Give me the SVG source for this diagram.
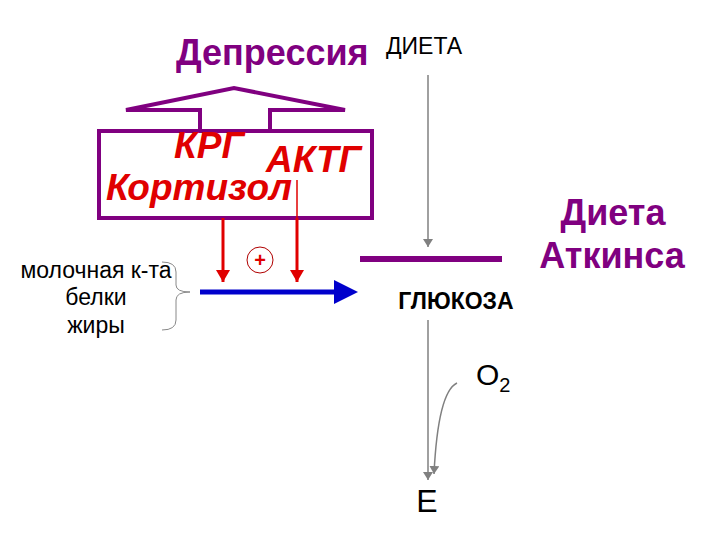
<svg xmlns="http://www.w3.org/2000/svg" width="720" height="540" viewBox="0 0 720 540">
<style>
text{font-family:"Liberation Sans",Arial,sans-serif}
.pur{fill:none;stroke:#800080;stroke-width:4}
.red{stroke:#e00000;stroke-width:3;fill:none}
.gr{stroke:#808080;stroke-width:1.5;fill:none}
</style>
<defs>
<marker id="gh" markerWidth="8" markerHeight="10" refX="8" refY="5" orient="auto" markerUnits="userSpaceOnUse"><path d="M0,0 L8,5 L0,10 Z" fill="#808080"/></marker>
<marker id="bh" markerWidth="24" markerHeight="24" refX="2" refY="12" orient="auto" markerUnits="userSpaceOnUse"><path d="M0,0 L24,12 L0,24 Z" fill="#0000cc"/></marker>
<marker id="rm" markerWidth="12" markerHeight="14" refX="12" refY="7" orient="auto" markerUnits="userSpaceOnUse"><path d="M0,0 L12,7 L0,14 Z" fill="#e00000"/></marker>
</defs>
<g id="depressia"><text x="176" y="65" font-size="36" font-weight="bold" fill="#800080">Депрессия</text></g>
<g id="dieta"><text x="386" y="54" font-size="23">ДИЕТА</text></g>
<g id="hormones">
<path class="pur" d="M200,131 L200,110 L126,110 L234,88 L345,110 L270,110 L270,131"/>
<rect class="pur" x="99" y="131" width="273" height="87"/>
<text x="174" y="158" font-size="37" font-weight="bold" font-style="italic" fill="#e00000">КРГ</text>
<text x="266" y="172" font-size="37" font-weight="bold" font-style="italic" fill="#e00000">АКТГ</text>
<text x="106" y="200" font-size="37" font-weight="bold" font-style="italic" fill="#e00000">Кортизол</text>
<line x1="297" y1="180" x2="297" y2="218" stroke="#e00000" stroke-width="1.5"/>
</g>
<g id="atkins"><text x="613" y="225" font-size="36" font-weight="bold" fill="#800080" text-anchor="middle">Диета</text><text x="612" y="268" font-size="36" font-weight="bold" fill="#800080" text-anchor="middle">Аткинса</text></g>
<g id="sources" font-size="23">
<text x="96" y="278" text-anchor="middle">молочная к-та</text>
<text x="96" y="305" text-anchor="middle">белки</text>
<text x="96" y="333" text-anchor="middle">жиры</text>
<path d="M162,262 Q176,262 176,272 L176,285 Q176,292 190,292 Q176,292 176,300 L176,320 Q176,330 162,330" fill="none" stroke="#888" stroke-width="1"/>
</g>
<g id="plus"><circle cx="260" cy="260" r="13" fill="none" stroke="#b00000" stroke-width="1"/><text x="260" y="267" font-size="20" font-weight="bold" fill="#e00000" text-anchor="middle">+</text></g>
<g id="glucose"><line x1="360" y1="259" x2="502" y2="259" stroke="#800080" stroke-width="6"/><text x="456" y="309" font-size="23" font-weight="bold" text-anchor="middle">ГЛЮКОЗА</text></g>
<g id="o2"><text x="476" y="385" font-size="30">O<tspan font-size="20" dy="7">2</tspan></text></g>
<g id="e"><text x="427" y="512" font-size="32" text-anchor="middle">E</text></g>
<g id="connectors">
<line x1="223" y1="218" x2="223" y2="282" class="red" marker-end="url(#rm)"/>
<line x1="297" y1="218" x2="297" y2="282" class="red" marker-end="url(#rm)"/>
<line x1="200" y1="292" x2="336" y2="292" stroke="#0000cc" stroke-width="5" marker-end="url(#bh)"/>
<line x1="428" y1="75" x2="428" y2="247" class="gr" marker-end="url(#gh)"/>
<line x1="428" y1="320" x2="428" y2="480" class="gr" marker-end="url(#gh)"/>
<path d="M457,383 Q438,392 434,474" class="gr" marker-end="url(#gh)"/>
</g>
</svg>
